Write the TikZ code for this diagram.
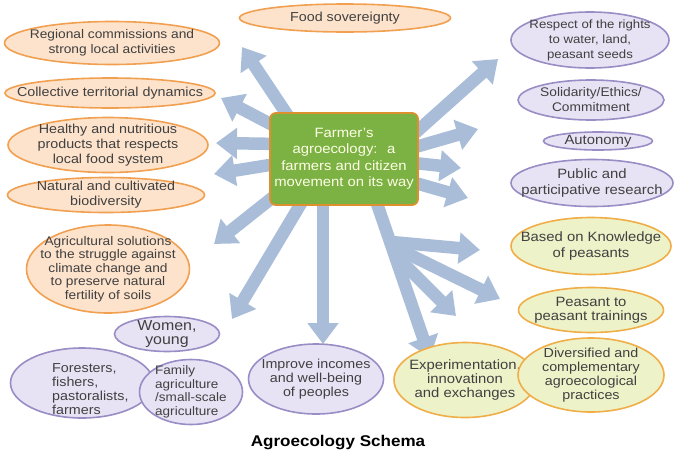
\documentclass[tikz,border=0pt]{standalone}
\usepackage{fontspec}
\setmainfont{Liberation Sans}[FakeStretch=1.1]
\usetikzlibrary{shapes.geometric,arrows.meta,backgrounds}
\definecolor{ofill}{HTML}{FDE3CC}
\definecolor{oline}{HTML}{F0A050}
\definecolor{pfill}{HTML}{E8E3F4}
\definecolor{pline}{HTML}{9A8CC4}
\definecolor{gfill}{HTML}{EEF2C8}
\definecolor{gline}{HTML}{EFAE48}
\definecolor{boxfill}{HTML}{7BB243}
\definecolor{boxline}{HTML}{DE8F2E}
\definecolor{arr}{HTML}{A9BDD9}
\definecolor{txt}{HTML}{404040}
\newcommand{\fs}[2]{\fontsize{#1}{#2}\selectfont}
\tikzset{
  x=1pt,y=-1pt,
  ell/.style={ellipse,inner sep=0pt,line width=1.6pt},
  orangeell/.style={ell,draw=oline,fill=ofill},
  purpleell/.style={ell,draw=pline,fill=pfill},
  greenell/.style={ell,draw=gline,fill=gfill},
  lbl/.style={inner sep=0pt,text=txt,align=center},
  bigarrow/.style={draw=arr,line width=12.5pt,-{Triangle[width=30pt,length=21pt]}},
}
\begin{document}
\begin{tikzpicture}
\useasboundingbox (0,0) rectangle (676,458);
% centre
\node[draw=boxline,fill=boxfill,line width=1.8pt,rounded corners=6pt,minimum width=148pt,minimum height=92pt,inner sep=0pt] (c) at (344,159) {};
\node[lbl,text=white!90!yellow,font=\fs{13.5}{16.5}] (ct) at (c) {Farmer's\\agroecology:~ a\\farmers and citizen\\movement on its way};
% orange
\node[orangeell,minimum width=211pt,minimum height=28pt] (food) at (345,18) {};
\node[lbl,font=\fs{13}{15}] at (food) {Food sovereignty};
\node[orangeell,minimum width=215pt,minimum height=43pt] (reg) at (112,43) {};
\node[lbl,font=\fs{12.5}{14.5}] at (reg) {Regional commissions and\\strong local activities};
\node[orangeell,minimum width=210pt,minimum height=30pt] (col) at (110,93) {};
\node[lbl,font=\fs{13}{15}] at (col) {Collective territorial dynamics};
\node[orangeell,minimum width=200pt,minimum height=55pt] (heal) at (108,145) {};
\node[lbl,font=\fs{13}{15}] at (heal) {Healthy and nutritious\\products that respects\\local food system};
\node[orangeell,minimum width=197pt,minimum height=35pt] (nat) at (106,195) {};
\node[lbl,font=\fs{13}{15}] at (nat) {Natural and cultivated\\biodiversity};
\node[orangeell,minimum width=163pt,minimum height=88pt] (agri) at (108,269) {};
\node[lbl,font=\fs{12.5}{13.5}] at (agri) {Agricultural solutions\\to the struggle against\\climate change and\\to preserve natural\\fertility of soils};
% purple right
\node[purpleell,minimum width=158pt,minimum height=56pt] (resp) at (590,40) {};
\node[lbl,font=\fs{12}{15}] at (resp) {Respect of the rights\\to water, land,\\peasant seeds};
\node[purpleell,minimum width=146pt,minimum height=40pt] (sol) at (591,100) {};
\node[lbl,font=\fs{12.5}{15}] at (sol) {Solidarity/Ethics/\\Commitment};
\node[purpleell,minimum width=109pt,minimum height=18pt] (aut) at (598,141) {};
\node[lbl,font=\fs{13.5}{15}] at (aut) {Autonomy};
\node[purpleell,minimum width=162pt,minimum height=47pt] (pub) at (592,183) {};
\node[lbl,font=\fs{13.5}{15.5}] at (pub) {Public and\\participative research};
% green
\node[greenell,minimum width=160pt,minimum height=57pt] (know) at (591,246) {};
\node[lbl,font=\fs{13.5}{16}] at (know) {Based on Knowledge\\of peasants};
\node[greenell,minimum width=145pt,minimum height=45pt] (train) at (591,310) {};
\node[lbl,font=\fs{13.5}{14.5}] at (train) {Peasant to\\peasant trainings};
\node[greenell,minimum width=142pt,minimum height=75pt] (exp) at (465,380) {};
\node[lbl,font=\fs{13.5}{14}] at (exp) {Experimentation,\\innovatinon\\and exchanges};
\node[greenell,minimum width=146pt,minimum height=74pt] (div) at (591,375) {};
\node[lbl,font=\fs{13}{13.8}] at (div) {Diversified and\\complementary\\agroecological\\practices};
% purple bottom
\node[purpleell,minimum width=105pt,minimum height=35pt] (wom) at (167,334) {};
\node[lbl,font=\fs{14.5}{14.5}] at (wom) {Women,\\young};
\node[purpleell,minimum width=143pt,minimum height=70pt] (for) at (82,383) {};
\node[lbl,align=left,anchor=west,font=\fs{13}{14.2}] at (52,389) {Foresters,\\fishers,\\pastoralists,\\farmers};
\node[purpleell,minimum width=103pt,minimum height=65pt] (fam) at (191,392) {};
\node[lbl,align=left,anchor=west,font=\fs{12.3}{13.5}] at (155,392) {Family\\agriculture\\/small-scale\\agriculture};
\node[purpleell,minimum width=135pt,minimum height=70pt] (inc) at (316,379) {};
\node[lbl,font=\fs{13}{14}] at (inc) {Improve incomes\\and well-being\\of peoples};
% title
\node[font=\bfseries\fs{15.5}{17},text=black] (title) at (338,443) {Agroecology Schema};
% arrow coordinates
\coordinate (s1) at (292,122); \coordinate (t1) at (242,47);
\coordinate (s2) at (282,130); \coordinate (t2) at (221,98);
\coordinate (s3) at (282,144); \coordinate (t3) at (216,143);
\coordinate (s4) at (282,163); \coordinate (t4) at (214,174);
\coordinate (s5) at (282,190); \coordinate (t5) at (214,244);
\coordinate (s6) at (306,195); \coordinate (t6) at (232,319);
\coordinate (s7) at (323,195); \coordinate (t7) at (323,344);
\coordinate (s8) at (374,195); \coordinate (t8) at (430,358);
\coordinate (b1) at (392,242); \coordinate (t9) at (480,250);
\coordinate (b2) at (396,248); \coordinate (t10) at (500,299);
\coordinate (b3) at (398,258); \coordinate (t11) at (456,316);
\coordinate (s12) at (405,142); \coordinate (t12) at (498,59);
\coordinate (s13) at (405,150); \coordinate (t13) at (478,129);
\coordinate (s14) at (405,162); \coordinate (t14) at (461,168);
\coordinate (s15) at (405,180); \coordinate (t15) at (468,198);
\begin{pgfonlayer}{background}
\foreach \s/\t in {s1/t1,s2/t2,s3/t3,s4/t4,s5/t5,s6/t6,s7/t7,s8/t8,b1/t9,b2/t10,b3/t11,s12/t12,s13/t13,s14/t14,s15/t15}
  \draw[bigarrow] (\s) -- (\t);
\end{pgfonlayer}
\end{tikzpicture}
\end{document}
